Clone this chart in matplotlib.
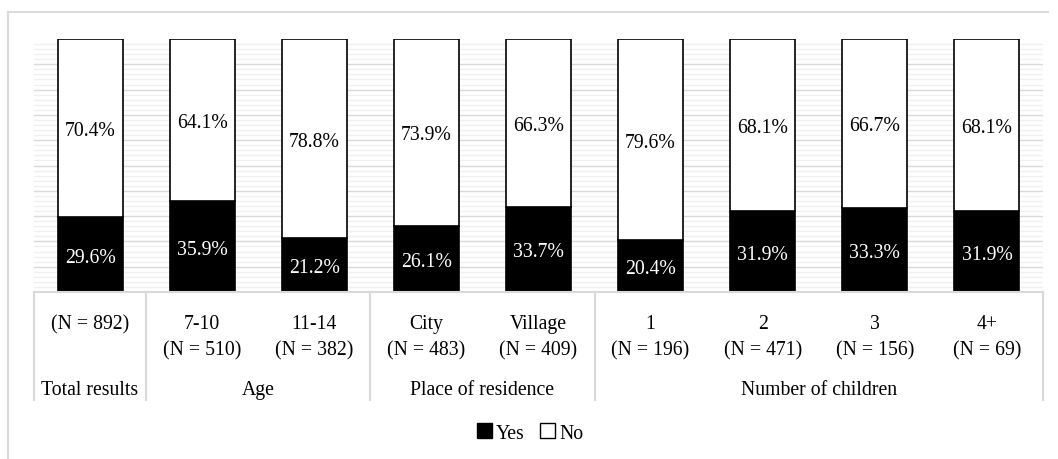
import matplotlib
matplotlib.use("Agg")
import matplotlib.pyplot as plt
import matplotlib.transforms as mtransforms
from matplotlib.lines import Line2D
from matplotlib.patches import Patch
import numpy as np

# Survey shares by subgroup
groups = ["Total results", "Age", "Place of residence", "Number of children"]
group_sizes = [1, 2, 2, 4]
subgroups = ["", "7-10", "11-14", "City", "Village", "1", "2", "3", "4+"]
sample_sizes = [892, 510, 382, 483, 409, 196, 471, 156, 69]
yes_pct = [29.6, 35.9, 21.2, 26.1, 33.7, 20.4, 31.9, 33.3, 31.9]
no_pct = [70.4, 64.1, 78.8, 73.9, 66.3, 79.6, 68.1, 66.7, 68.1]

W, H = 1058, 460
plt.rcParams["font.family"] = ["Liberation Serif", "DejaVu Serif"]
fig = plt.figure(figsize=(W / 100, H / 100), dpi=100)


def fy(px):
    return 1 - px / H


ax = fig.add_axes([34 / W, fy(293), 1009 / W, 253 / H])
x = np.arange(len(subgroups))
ax.set_xlim(-0.5, len(subgroups) - 0.5)
ax.set_ylim(0, 100)

# background grid: minor every 2%, major every 10%
for v in np.arange(2, 100, 2):
    major = v % 10 == 0
    ax.axhline(v, color="#d9d9d9" if major else "#f0f0f0",
               lw=1.0, zorder=0)

bw = 0.58
ax.bar(x, yes_pct, bw, color="black", edgecolor="black", lw=1.2, zorder=2)
ax.bar(x, no_pct, bw, bottom=yes_pct, color="white", edgecolor="black",
       lw=1.2, zorder=2)

fs = 14.2
va = "center_baseline"
for xi, y, n in zip(x, yes_pct, no_pct):
    ax.text(xi, y / 2, f"{y:.1f}%", ha="center", va=va,
            color="white", fontsize=fs, zorder=3)
    ax.text(xi, y + n / 2, f"{n:.1f}%", ha="center", va=va,
            color="black", fontsize=fs, zorder=3)

for s in ax.spines.values():
    s.set_visible(False)
ax.set_xticks([])
ax.set_yticks([])

# multi-level category table under the bars
tr = mtransforms.blended_transform_factory(ax.transData, fig.transFigure)
line_col = "#d9d9d9"
top_px, bot_px = 293, 401
fig.add_artist(Line2D([-0.5, len(subgroups) - 0.5], [fy(top_px)] * 2,
                      transform=tr, color=line_col, lw=1.5))
edges = np.concatenate([[0], np.cumsum(group_sizes)]) - 0.5
for e in edges:
    fig.add_artist(Line2D([e, e], [fy(top_px), fy(bot_px)], transform=tr,
                          color=line_col, lw=1.5))

for xi, sub, n in zip(x, subgroups, sample_sizes):
    if sub:
        fig.text(xi, fy(322), sub, transform=tr, ha="center", va=va,
                 fontsize=fs)
        fig.text(xi, fy(348), f"(N = {n})", transform=tr, ha="center",
                 va=va, fontsize=fs)
    else:
        fig.text(xi, fy(322), f"(N = {n})", transform=tr, ha="center",
                 va=va, fontsize=fs)

for g, a, b in zip(groups, edges[:-1], edges[1:]):
    fig.text((a + b) / 2, fy(388), g, transform=tr, ha="center",
             va=va, fontsize=fs)

# outer chart frame
fig.add_artist(Line2D([8 / W, 1048 / W], [fy(13)] * 2, color=line_col, lw=1.5))
fig.add_artist(Line2D([8 / W, 8 / W], [fy(13), 0], color=line_col, lw=1.5))

handles = [Patch(facecolor="black", edgecolor="black", label="Yes"),
           Patch(facecolor="white", edgecolor="black", label="No")]
fig.legend(handles=handles, loc="center", bbox_to_anchor=(530 / W, fy(434)),
           ncol=2, frameon=False, fontsize=fs, handlelength=0.75,
           handleheight=0.75, handletextpad=0.2, columnspacing=0.8)

fig.savefig("out.png", dpi=100)
